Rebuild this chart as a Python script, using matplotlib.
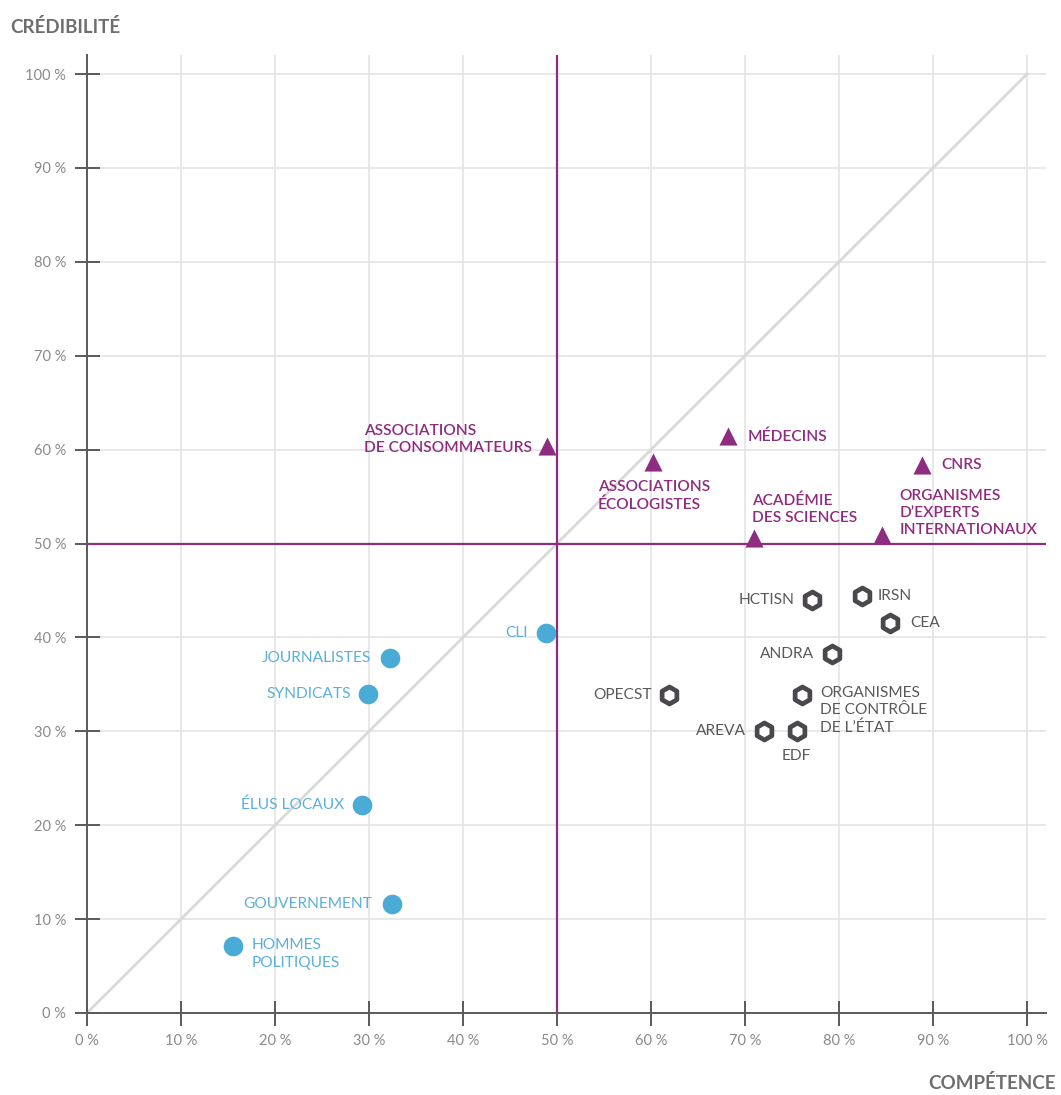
import matplotlib
matplotlib.use('Agg')
import matplotlib.pyplot as plt

plt.rcParams['font.family'] = ['Lato', 'DejaVu Sans']

# purple: scientific / civil bodies
PURPLE_NAMES = ['ASSOCIATIONS\nDE CONSOMMATEURS', 'ASSOCIATIONS\nÉCOLOGISTES', 'MÉDECINS', 'CNRS',
                'ACADÉMIE\nDES SCIENCES', 'ORGANISMES\nD\u2019EXPERTS\nINTERNATIONAUX']
PURPLE_X = [48.9, 60.2, 68.2, 88.8, 71.0, 84.6]
PURPLE_Y = [60.4, 58.7, 61.4, 58.4, 50.6, 50.9]

# grey: nuclear operators and agencies
GREY_NAMES = ['HCTISN', 'IRSN', 'CEA', 'ANDRA', 'OPECST',
              'ORGANISMES\nDE CONTRÔLE\nDE L\u2019ÉTAT', 'AREVA', 'EDF']
GREY_X = [77.1, 82.4, 85.4, 79.3, 61.9, 76.1, 72.0, 75.5]
GREY_Y = [44.0, 44.4, 41.5, 38.2, 33.9, 33.9, 30.0, 30.0]

# blue: political / media
BLUE_NAMES = ['CLI', 'JOURNALISTES', 'SYNDICATS', 'ÉLUS LOCAUX', 'GOUVERNEMENT', 'HOMMES\nPOLITIQUES']
BLUE_X = [48.8, 32.2, 29.9, 29.3, 32.4, 15.5]
BLUE_Y = [40.5, 37.8, 34.0, 22.2, 11.6, 7.1]

TICKS = [0, 10, 20, 30, 40, 50, 60, 70, 80, 90, 100]

PURPLE = '#8e2c80'
BLUE = '#4aabd6'
BLUE_TXT = '#5cb0d8'
GREY = '#4b484d'
GREY_TXT = '#5a585b'

# label placement (offset in px, ha, va, multialignment)
PURPLE_LBL = [(-15, 6, 'right', 'center', 'left'), (-55, -18, 'left', 'top', 'left'),
              (20, 0, 'left', 'center', 'left'), (20, 0, 'left', 'center', 'left'),
              (-2, 13, 'left', 'bottom', 'left'), (17, 22, 'left', 'center', 'left')]
GREY_LBL = [(-17, 0, 'right', 'center', 'right'), (16, 0, 'left', 'center', 'left'),
            (20, 0, 'left', 'center', 'left'), (-18, 0, 'right', 'center', 'right'),
            (-17, 0, 'right', 'center', 'right'), (18, 9, 'left', 'top', 'left'),
            (-18, 0, 'right', 'center', 'right'), (0, -25, 'center', 'center', 'center')]
BLUE_LBL = [(-18, 0, 'right', 'center', 'right'), (-18, 0, 'right', 'center', 'right'),
            (-17, 0, 'right', 'center', 'right'), (-18, 0, 'right', 'center', 'right'),
            (-19, 0, 'right', 'center', 'right'), (19, 8, 'left', 'top', 'left')]

W, H = 1061, 1095
fig = plt.figure(figsize=(W / 100, H / 100), dpi=100)
ax = fig.add_axes([87 / W, (H - 1013) / H, 102 * 9.4 / W, 102 * 9.39 / H])
ax.set_xlim(0, 102)
ax.set_ylim(0, 102)

for sp in ['top', 'right']:
    ax.spines[sp].set_visible(False)
for sp in ['left', 'bottom']:
    ax.spines[sp].set_color('#5a5a5a')
    ax.spines[sp].set_linewidth(1.4)

ax.set_xticks(TICKS)
ax.set_yticks(TICKS)
ax.set_xticklabels([f'{t} %' for t in TICKS])
ax.set_yticklabels([f'{t} %' for t in TICKS])
ax.tick_params(direction='inout', length=18, width=1.4, color='#5a5a5a',
               labelsize=10.5, labelcolor='#8a8a8a')
ax.tick_params(axis='x', pad=6)
ax.tick_params(axis='y', pad=6)

for t in TICKS[1:]:
    ax.axvline(t, color='#e4e4e4', lw=1.2, zorder=0)
    ax.axhline(t, color='#e4e4e4', lw=1.2, zorder=0)

ax.plot([0, 100], [0, 100], color='#d9d9d9', lw=2, zorder=1)
ax.axvline(50, color=PURPLE, lw=1.6, zorder=2)
ax.axhline(50, color=PURPLE, lw=1.6, zorder=2)

ax.scatter(PURPLE_X, PURPLE_Y, marker='^', s=170, color=PURPLE, zorder=5, linewidths=0)
ax.scatter(GREY_X, GREY_Y, marker='h', s=150, facecolor='white', edgecolor=GREY, linewidths=3.4, zorder=5)
ax.scatter(BLUE_X, BLUE_Y, marker='o', s=200, color=BLUE, zorder=5, linewidths=0)


def label(names, xs, ys, specs, color, weight):
    for n, x, y, (dx, dy, ha, va, ma) in zip(names, xs, ys, specs):
        ax.annotate(n, (x, y), xytext=(dx * 0.72, dy * 0.72), textcoords='offset points',
                    ha=ha, va=va, multialignment=ma, fontsize=11.2, color=color,
                    fontweight=weight, linespacing=1.3, zorder=6)


label(PURPLE_NAMES, PURPLE_X, PURPLE_Y, PURPLE_LBL, PURPLE, 'semibold')
label(GREY_NAMES, GREY_X, GREY_Y, GREY_LBL, GREY_TXT, 'normal')
label(BLUE_NAMES, BLUE_X, BLUE_Y, BLUE_LBL, BLUE_TXT, 'normal')

fig.text(10 / W, 1 - 27 / H, 'CRÉDIBILITÉ', fontsize=13.5, fontweight='bold',
         color='#6e6e6e', ha='left', va='center')
fig.text(1056 / W, 1 - 1083 / H, 'COMPÉTENCE', fontsize=13.5, fontweight='bold',
         color='#6e6e6e', ha='right', va='center')

fig.savefig('out.png', dpi=100, facecolor='white')
